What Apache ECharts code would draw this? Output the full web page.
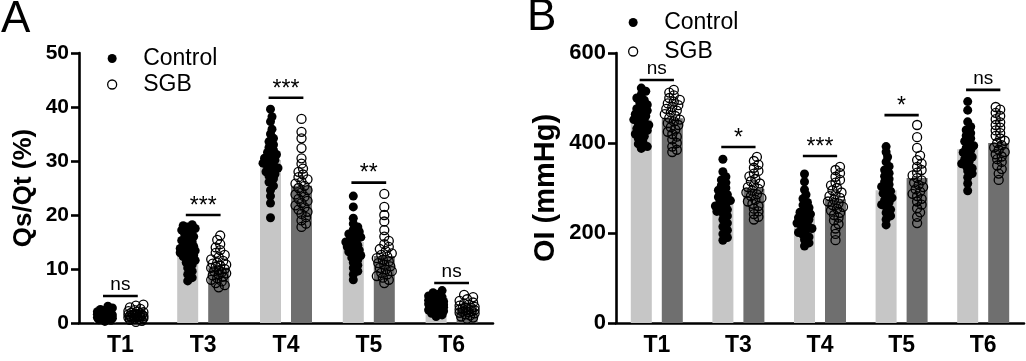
<!DOCTYPE html>
<html>
<head>
<meta charset="utf-8">
<script src="https://cdn.jsdelivr.net/npm/echarts@6/dist/echarts.min.js"></script>
<style>
  html, body { margin: 0; padding: 0; background: #fff; }
  #chart { width: 1026px; height: 361px; }
</style>
</head>
<body>
<div id="chart"></div>
<script>
// categories
const times = ['T1', 'T3', 'T4', 'T5', 'T6'];

// panel A: Qs/Qt (%)
const qsMeanControl = [1.3, 13.5, 30.2, 15.0, 3.4];
const qsMeanSGB = [1.4, 10.3, 25.4, 12.4, 2.6];
const qsControl = [
  [0.3, 0.5, 0.6, 0.7, 0.8, 0.9, 0.9, 1.0, 1.0, 1.1, 1.1, 1.2, 1.2, 1.3, 1.3, 1.4, 1.4, 1.5, 1.5, 1.6, 1.6, 1.7, 1.8, 1.9, 2.0, 2.1, 2.3, 2.5, 2.8, 3.1],
  [18.2, 18.0, 17.8, 17.5, 17.2, 16.8, 16.4, 16.0, 15.6, 15.3, 15.0, 14.7, 14.4, 14.2, 14.0, 13.8, 13.6, 13.4, 13.2, 13.0, 12.8, 12.6, 12.3, 12.0, 11.6, 11.2, 10.8, 10.2, 9.6, 9.0, 8.4, 7.8],
  [39.6, 38.2, 37.3, 35.9, 35.0, 34.2, 33.6, 33.0, 32.5, 32.0, 31.6, 31.2, 30.8, 30.5, 30.2, 29.9, 29.6, 29.3, 29.0, 28.7, 28.4, 28.0, 27.6, 27.2, 26.7, 26.1, 25.4, 24.6, 23.5, 22.2, 19.5],
  [23.5, 21.5, 19.4, 18.4, 17.8, 17.3, 16.9, 16.5, 16.2, 15.9, 15.6, 15.3, 15.0, 14.7, 14.4, 14.1, 13.8, 13.5, 13.2, 12.9, 12.5, 12.1, 11.7, 11.2, 10.7, 10.2, 9.6, 9.0, 8.0],
  [6.0, 5.6, 5.3, 5.0, 4.8, 4.6, 4.4, 4.2, 4.0, 3.9, 3.8, 3.7, 3.6, 3.5, 3.4, 3.3, 3.2, 3.1, 3.0, 2.9, 2.8, 2.6, 2.4, 2.2, 2.0, 1.8, 1.5, 1.2]
];
const qsSGB = [
  [0.2, 0.4, 0.6, 0.7, 0.8, 0.9, 1.0, 1.0, 1.1, 1.2, 1.2, 1.3, 1.3, 1.4, 1.4, 1.5, 1.5, 1.6, 1.6, 1.7, 1.8, 1.9, 2.0, 2.1, 2.2, 2.4, 2.6, 2.9, 3.2, 3.4],
  [16.2, 15.4, 14.6, 14.0, 13.5, 13.0, 12.6, 12.2, 11.8, 11.5, 11.2, 11.0, 10.8, 10.6, 10.4, 10.2, 10.0, 9.8, 9.6, 9.4, 9.2, 9.0, 8.8, 8.6, 8.3, 8.0, 7.7, 7.4, 7.0, 6.6],
  [37.8, 35.4, 34.2, 32.4, 30.5, 29.5, 28.6, 28.0, 27.5, 27.0, 26.6, 26.2, 25.8, 25.4, 25.0, 24.6, 24.2, 23.8, 23.4, 23.0, 22.6, 22.2, 21.8, 21.4, 21.0, 20.6, 20.2, 19.6, 19.0, 18.4, 17.8],
  [23.9, 21.5, 20.0, 18.8, 17.2, 16.0, 15.2, 14.6, 14.1, 13.7, 13.3, 12.9, 12.6, 12.3, 12.0, 11.7, 11.4, 11.1, 10.8, 10.5, 10.2, 9.9, 9.6, 9.3, 9.0, 8.7, 8.4, 8.0, 7.4],
  [5.2, 4.8, 4.4, 4.1, 3.8, 3.6, 3.4, 3.2, 3.0, 2.9, 2.8, 2.7, 2.6, 2.5, 2.4, 2.3, 2.2, 2.1, 2.0, 1.9, 1.8, 1.6, 1.4, 1.2, 1.0, 0.8]
];
const qsBracket = [5, 20, 41.7, 26, 7.4];
const qsSig = ['ns', '***', '***', '**', 'ns'];

// panel B: OI (mmHg)
const oiMeanControl = [452, 268, 236, 295, 386];
const oiMeanSGB = [455, 298, 275, 322, 400];
const oiControl = [
  [522, 515, 508, 500, 495, 490, 485, 480, 476, 472, 468, 464, 460, 456, 452, 448, 444, 440, 436, 432, 428, 424, 420, 415, 410, 404, 398, 392, 388],
  [364, 336, 325, 318, 312, 306, 300, 295, 290, 285, 280, 276, 272, 268, 264, 260, 256, 252, 248, 244, 238, 230, 222, 214, 206, 198, 190, 184],
  [331, 314, 296, 285, 276, 268, 262, 256, 251, 246, 242, 238, 234, 230, 226, 222, 218, 214, 210, 206, 201, 196, 191, 185, 178, 171],
  [392, 380, 369, 358, 348, 340, 333, 326, 320, 314, 308, 303, 298, 293, 288, 283, 278, 273, 268, 263, 258, 252, 245, 238, 230, 218],
  [492, 473, 447, 436, 429, 422, 416, 410, 404, 399, 394, 389, 384, 379, 374, 369, 364, 359, 354, 349, 344, 338, 332, 324, 310, 294]
];
const oiSGB = [
  [518, 512, 506, 500, 496, 492, 488, 484, 480, 476, 472, 468, 464, 460, 456, 452, 448, 444, 440, 435, 430, 425, 420, 414, 408, 400, 392, 385, 380],
  [369, 360, 352, 345, 338, 332, 326, 320, 315, 310, 306, 302, 298, 294, 290, 286, 282, 278, 274, 270, 265, 260, 254, 248, 242, 236, 230],
  [347, 340, 333, 325, 318, 312, 306, 300, 295, 290, 286, 282, 278, 274, 270, 266, 262, 258, 254, 250, 245, 240, 234, 228, 220, 210, 198, 184],
  [440, 413, 389, 372, 362, 354, 347, 340, 334, 328, 322, 317, 312, 307, 302, 297, 292, 287, 282, 276, 270, 263, 255, 246, 236, 222],
  [480, 474, 467, 460, 453, 446, 440, 434, 428, 422, 416, 410, 405, 400, 395, 390, 385, 380, 375, 370, 364, 358, 350, 342, 332, 318]
];
const oiBracket = [540, 391, 371, 462, 518];
const oiSig = ['ns', '*', '***', '*', 'ns'];

const FONT = 'Liberation Sans, Arial, sans-serif';
const BAR_W = 21;
const BAR_GAP = 10;
const PLOT_H = 270;
const DOT = 9;
const gridA = { left: 79, top: 53, width: 414, height: PLOT_H };
const gridB = { left: 616, top: 53, width: 408, height: PLOT_H };

// simple beeswarm, returns x offsets in axis units
function swarm(vals, pxPerUnit, bandPx) {
  const order = vals.map((v, i) => i).sort((a, b) => vals[a] - vals[b]);
  const placed = [];
  const offs = new Array(vals.length);
  const minD = 5, maxW = 8.5, step = 1.5;
  const nSteps = Math.floor(maxW / step) * 2;
  order.forEach((i) => {
    const y = vals[i] * pxPerUnit;
    let best = 0, bestScore = -1;
    for (let k = 0; k <= nSteps; k++) {
      const o = (k % 2 ? 1 : -1) * Math.ceil(k / 2) * step;
      let dmin = Infinity;
      placed.forEach((p) => { dmin = Math.min(dmin, Math.hypot(p.x - o, p.y - y)); });
      if (dmin >= minD) { best = o; break; }
      if (dmin > bestScore) { bestScore = dmin; best = o; }
    }
    placed.push({ x: best, y });
    offs[i] = best / bandPx;
  });
  return offs;
}

function points(groups, side, grid, yMax) {
  const band = grid.width / times.length;
  const shift = side * (BAR_W + BAR_GAP) / 2 / band;
  const out = [];
  groups.forEach((vals, ci) => {
    const offs = swarm(vals, PLOT_H / yMax, band);
    vals.forEach((v, k) => out.push([ci + shift + offs[k], v]));
  });
  return out;
}

function bracketSeries(xi, yi, lines, labels) {
  return {
    type: 'custom',
    xAxisIndex: xi,
    yAxisIndex: yi,
    z: 10,
    silent: true,
    data: lines.map((y, i) => [i, y]),
    renderItem(params, api) {
      const i = api.value(0);
      const y = api.value(1);
      const p1 = api.coord([i - 0.21, y]);
      const p2 = api.coord([i + 0.21, y]);
      const label = labels[params.dataIndex];
      const isNs = label === 'ns';
      return {
        type: 'group',
        children: [
          { type: 'line', shape: { x1: p1[0], y1: p1[1], x2: p2[0], y2: p2[1] }, style: { stroke: '#000', lineWidth: 2.6 } },
          { type: 'text', x: (p1[0] + p2[0]) / 2, y: p1[1] + (isNs ? -2 : 3),
            style: { text: label, fill: '#000', font: (isNs ? '19px ' : '23px ') + FONT, textAlign: 'center', textVerticalAlign: 'bottom' } }
        ]
      };
    }
  };
}

function catAxis(gi) {
  return {
    type: 'category', gridIndex: gi, data: times,
    axisLine: { lineStyle: { color: '#000', width: 2.6 } },
    axisTick: { alignWithLabel: true, length: 10, lineStyle: { color: '#000', width: 2.6 } },
    axisLabel: { color: '#000', fontFamily: FONT, fontWeight: 'bold', fontSize: 23, margin: 11 }
  };
}
function valXAxis(gi) {
  return { type: 'value', gridIndex: gi, min: -0.5, max: 4.5, show: false };
}
function yAxis(gi, max, interval, name, nameSize, nameGap, labelSize) {
  return {
    type: 'value', gridIndex: gi, min: 0, max, interval,
    name, nameLocation: 'middle', nameGap,
    nameTextStyle: { color: '#000', fontFamily: FONT, fontWeight: 'bold', fontSize: nameSize },
    axisLine: { show: true, onZero: false, lineStyle: { color: '#000', width: 2.6 } },
    axisTick: { show: true, length: 8, lineStyle: { color: '#000', width: 2.6 } },
    axisLabel: { color: '#000', fontFamily: FONT, fontWeight: 'bold', fontSize: labelSize, margin: 10 },
    splitLine: { show: false }
  };
}

const dotControl = { color: '#000', opacity: 1 };
const dotSGB = { color: 'rgba(0,0,0,0)', borderColor: '#000', borderWidth: 1.3, opacity: 1 };

function legend(left, top, gap) {
  return {
    left, top, orient: 'vertical', itemWidth: 52, itemHeight: 9, itemGap: gap,
    icon: 'circle', selectedMode: false,
    textStyle: { color: '#000', fontFamily: FONT, fontSize: 23, lineHeight: 22 },
    data: [
      { name: 'Control', itemStyle: dotControl },
      { name: 'SGB', itemStyle: dotSGB }
    ]
  };
}

const chart = echarts.init(document.getElementById('chart'), null, { renderer: 'canvas' });
chart.setOption({
  animation: false,
  backgroundColor: '#fff',
  grid: [gridA, gridB],
  xAxis: [catAxis(0), valXAxis(0), catAxis(1), valXAxis(1)],
  yAxis: [
    yAxis(0, 50, 10, 'Qs/Qt (%)', 26, 42, 21),
    yAxis(1, 600, 200, 'OI (mmHg)', 29, 56, 22)
  ],
  legend: [legend(102, 42, 3), legend(623, 6, 6)],
  graphic: [
    { type: 'text', left: 1, top: -2, style: { text: 'A', font: '44px ' + FONT, fill: '#000' } },
    { type: 'text', left: 527, top: -4, style: { text: 'B', font: '44px ' + FONT, fill: '#000' } }
  ],
  series: [
    { name: 'Control mean', type: 'bar', xAxisIndex: 0, yAxisIndex: 0, barWidth: BAR_W, barGap: (BAR_GAP / BAR_W * 100) + '%',
      itemStyle: { color: '#c6c6c6' }, data: qsMeanControl, silent: true },
    { name: 'SGB mean', type: 'bar', xAxisIndex: 0, yAxisIndex: 0, barWidth: BAR_W,
      itemStyle: { color: '#6f6f6f' }, data: qsMeanSGB, silent: true },
    { name: 'Control', type: 'scatter', xAxisIndex: 1, yAxisIndex: 0, symbolSize: DOT, z: 5,
      itemStyle: dotControl, data: points(qsControl, -1, gridA, 50) },
    { name: 'SGB', type: 'scatter', xAxisIndex: 1, yAxisIndex: 0, symbolSize: DOT, z: 5,
      itemStyle: dotSGB, data: points(qsSGB, 1, gridA, 50) },
    bracketSeries(1, 0, qsBracket, qsSig),

    { name: 'Control mean', type: 'bar', xAxisIndex: 2, yAxisIndex: 1, barWidth: BAR_W, barGap: (BAR_GAP / BAR_W * 100) + '%',
      itemStyle: { color: '#c6c6c6' }, data: oiMeanControl, silent: true },
    { name: 'SGB mean', type: 'bar', xAxisIndex: 2, yAxisIndex: 1, barWidth: BAR_W,
      itemStyle: { color: '#6f6f6f' }, data: oiMeanSGB, silent: true },
    { name: 'Control', type: 'scatter', xAxisIndex: 3, yAxisIndex: 1, symbolSize: DOT, z: 5,
      itemStyle: dotControl, data: points(oiControl, -1, gridB, 600) },
    { name: 'SGB', type: 'scatter', xAxisIndex: 3, yAxisIndex: 1, symbolSize: DOT, z: 5,
      itemStyle: dotSGB, data: points(oiSGB, 1, gridB, 600) },
    bracketSeries(3, 1, oiBracket, oiSig)
  ]
});
</script>
</body>
</html>
